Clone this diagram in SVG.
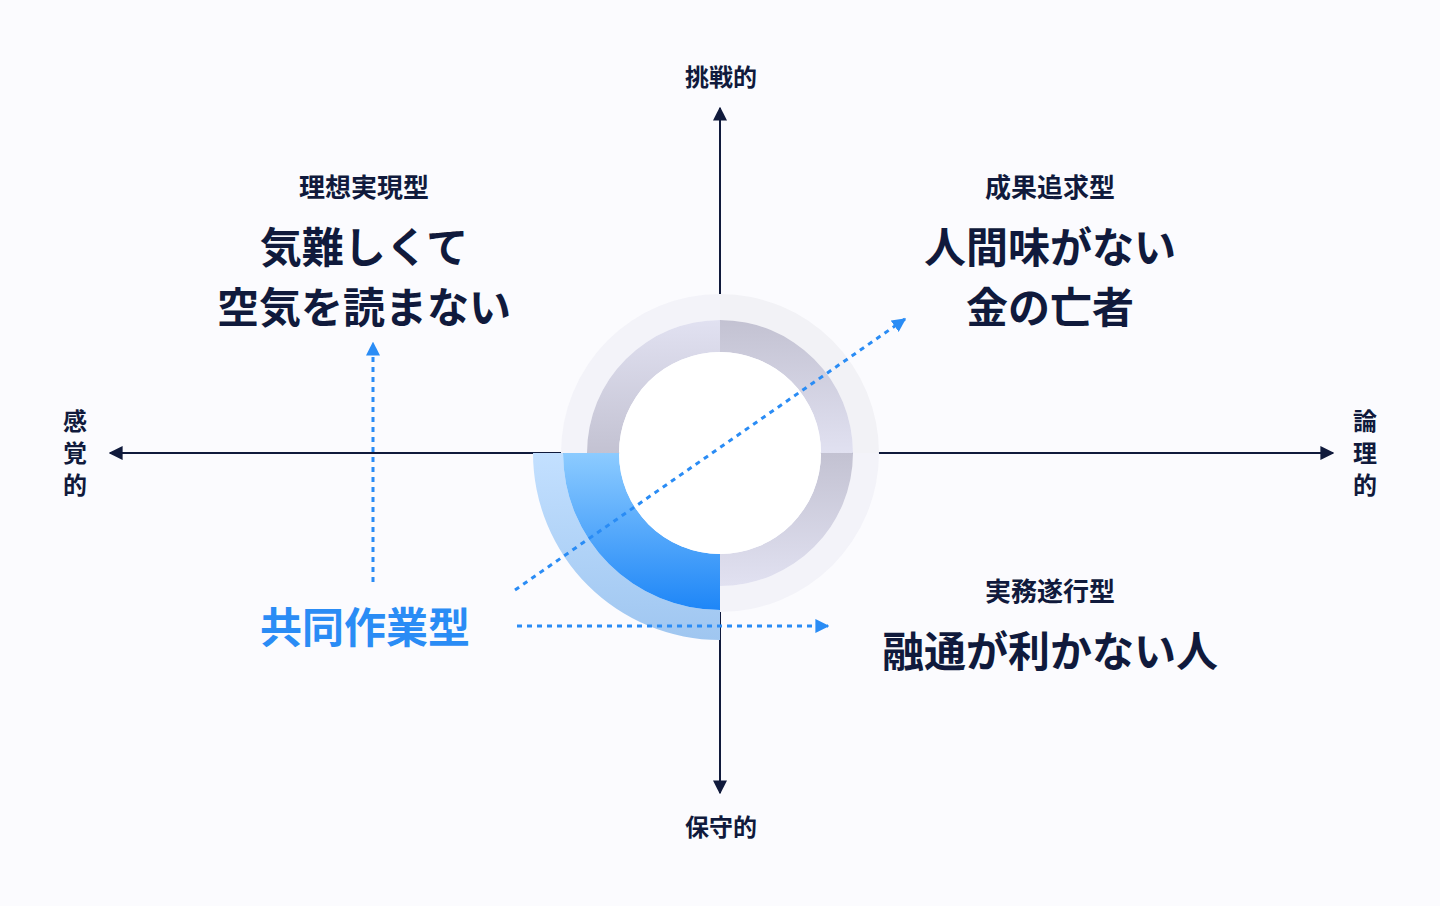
<svg xmlns="http://www.w3.org/2000/svg" width="1440" height="906" viewBox="0 0 1440 906">
<defs>
<style>
text{font-family:"Noto Sans CJK JP","Noto Sans",sans-serif;fill:#101a3c;text-anchor:middle;font-weight:700}
.ax{font-size:24px}.sub{font-size:26px}.big{font-size:42px}
.axis{stroke:#101a3c;stroke-width:2;fill:none}
.dot{stroke:#2a8cf5;stroke-width:3;stroke-dasharray:5 5;fill:none}
</style>
<marker id="ah" viewBox="0 0 10 10" refX="9" refY="5" markerWidth="14" markerHeight="14" markerUnits="userSpaceOnUse" orient="auto"><path d="M0,0L10,5L0,10z" fill="#101a3c"/></marker>
<marker id="bh" viewBox="0 0 10 10" refX="9" refY="5" markerWidth="14" markerHeight="14" markerUnits="userSpaceOnUse" orient="auto"><path d="M0,0L10,5L0,10z" fill="#2a8cf5"/></marker>
<linearGradient id="gTL" x1="0" y1="0" x2="0" y2="1"><stop offset="0" stop-color="#e1e1f1"/><stop offset="1" stop-color="#c3c2d2"/></linearGradient>
<linearGradient id="gTR" x1="0" y1="0" x2="0" y2="1"><stop offset="0" stop-color="#c3c2d2"/><stop offset="1" stop-color="#e1e1f1"/></linearGradient>
<linearGradient id="gBL" x1="0" y1="0" x2="0" y2="1"><stop offset="0" stop-color="#8ccbff"/><stop offset="1" stop-color="#1e86f7"/></linearGradient>
<linearGradient id="gBLo" x1="0" y1="0" x2="0" y2="1"><stop offset="0" stop-color="#c3e0ff"/><stop offset="1" stop-color="#9fc6f0"/></linearGradient>
</defs>
<rect width="1440" height="906" fill="#fbfbfe"/>
<g id="connectors">
<line class="axis" x1="720" y1="790" x2="720" y2="108" marker-end="url(#ah)"/>
<line class="axis" x1="720" y1="453" x2="720" y2="793" marker-end="url(#ah)"/>
<line class="axis" x1="720" y1="453" x2="110" y2="453" marker-end="url(#ah)"/>
<line class="axis" x1="720" y1="453" x2="1333" y2="453" marker-end="url(#ah)"/>
</g>
<g id="ring">
<path d="M720,294A159,159 0 0 0 561,453L587,453A133,133 0 0 1 720,320z" fill="#f3f3f9"/>
<path d="M720,294A159,159 0 0 1 879,453L853,453A133,133 0 0 0 720,320z" fill="#f2f2f6"/>
<path d="M879,453A159,159 0 0 1 720,612L720,586A133,133 0 0 0 853,453z" fill="#f3f3f9"/>
<path d="M720,320A133,133 0 0 0 587,453L619,453A101,101 0 0 1 720,352z" fill="url(#gTL)"/>
<path d="M720,320A133,133 0 0 1 853,453L821,453A101,101 0 0 0 720,352z" fill="url(#gTR)"/>
<path d="M853,453A133,133 0 0 1 720,586L720,554A101,101 0 0 0 821,453z" fill="url(#gTR)"/>
<path d="M533,453A187,187 0 0 0 720,640L720,610A157,157 0 0 1 563,453z" fill="url(#gBLo)"/>
<path d="M563,453A157,157 0 0 0 720,610L720,554A101,101 0 0 1 619,453z" fill="url(#gBL)"/>
<circle cx="720" cy="453" r="101" fill="#fff"/>
</g>
<g id="dotted">
<line class="dot" x1="515" y1="590" x2="905" y2="319" marker-end="url(#bh)"/>
<line class="dot" x1="517" y1="626" x2="828" y2="626" marker-end="url(#bh)"/>
<line class="dot" x1="373" y1="582" x2="373" y2="343" marker-end="url(#bh)"/>
</g>
<g id="axis-labels">
<text class="ax" x="721" y="86">挑戦的</text>
<text class="ax" x="721" y="836">保守的</text>
<text class="ax" x="75" y="430">感</text><text class="ax" x="75" y="462">覚</text><text class="ax" x="75" y="494">的</text>
<text class="ax" x="1365" y="430">論</text><text class="ax" x="1365" y="462">理</text><text class="ax" x="1365" y="494">的</text>
</g>
<g id="node-tl"><text class="sub" x="364" y="197">理想実現型</text><text class="big" x="364" y="263">気難しくて</text><text class="big" x="364" y="323">空気を読まない</text></g>
<g id="node-tr"><text class="sub" x="1050" y="197">成果追求型</text><text class="big" x="1050" y="263">人間味がない</text><text class="big" x="1050" y="323">金の亡者</text></g>
<g id="node-br"><text class="sub" x="1050" y="601">実務遂行型</text><text class="big" x="1050" y="667">融通が利かない人</text></g>
<g id="node-bl"><text class="big" x="365" y="643" style="fill:#2a8cf5">共同作業型</text></g>
</svg>
